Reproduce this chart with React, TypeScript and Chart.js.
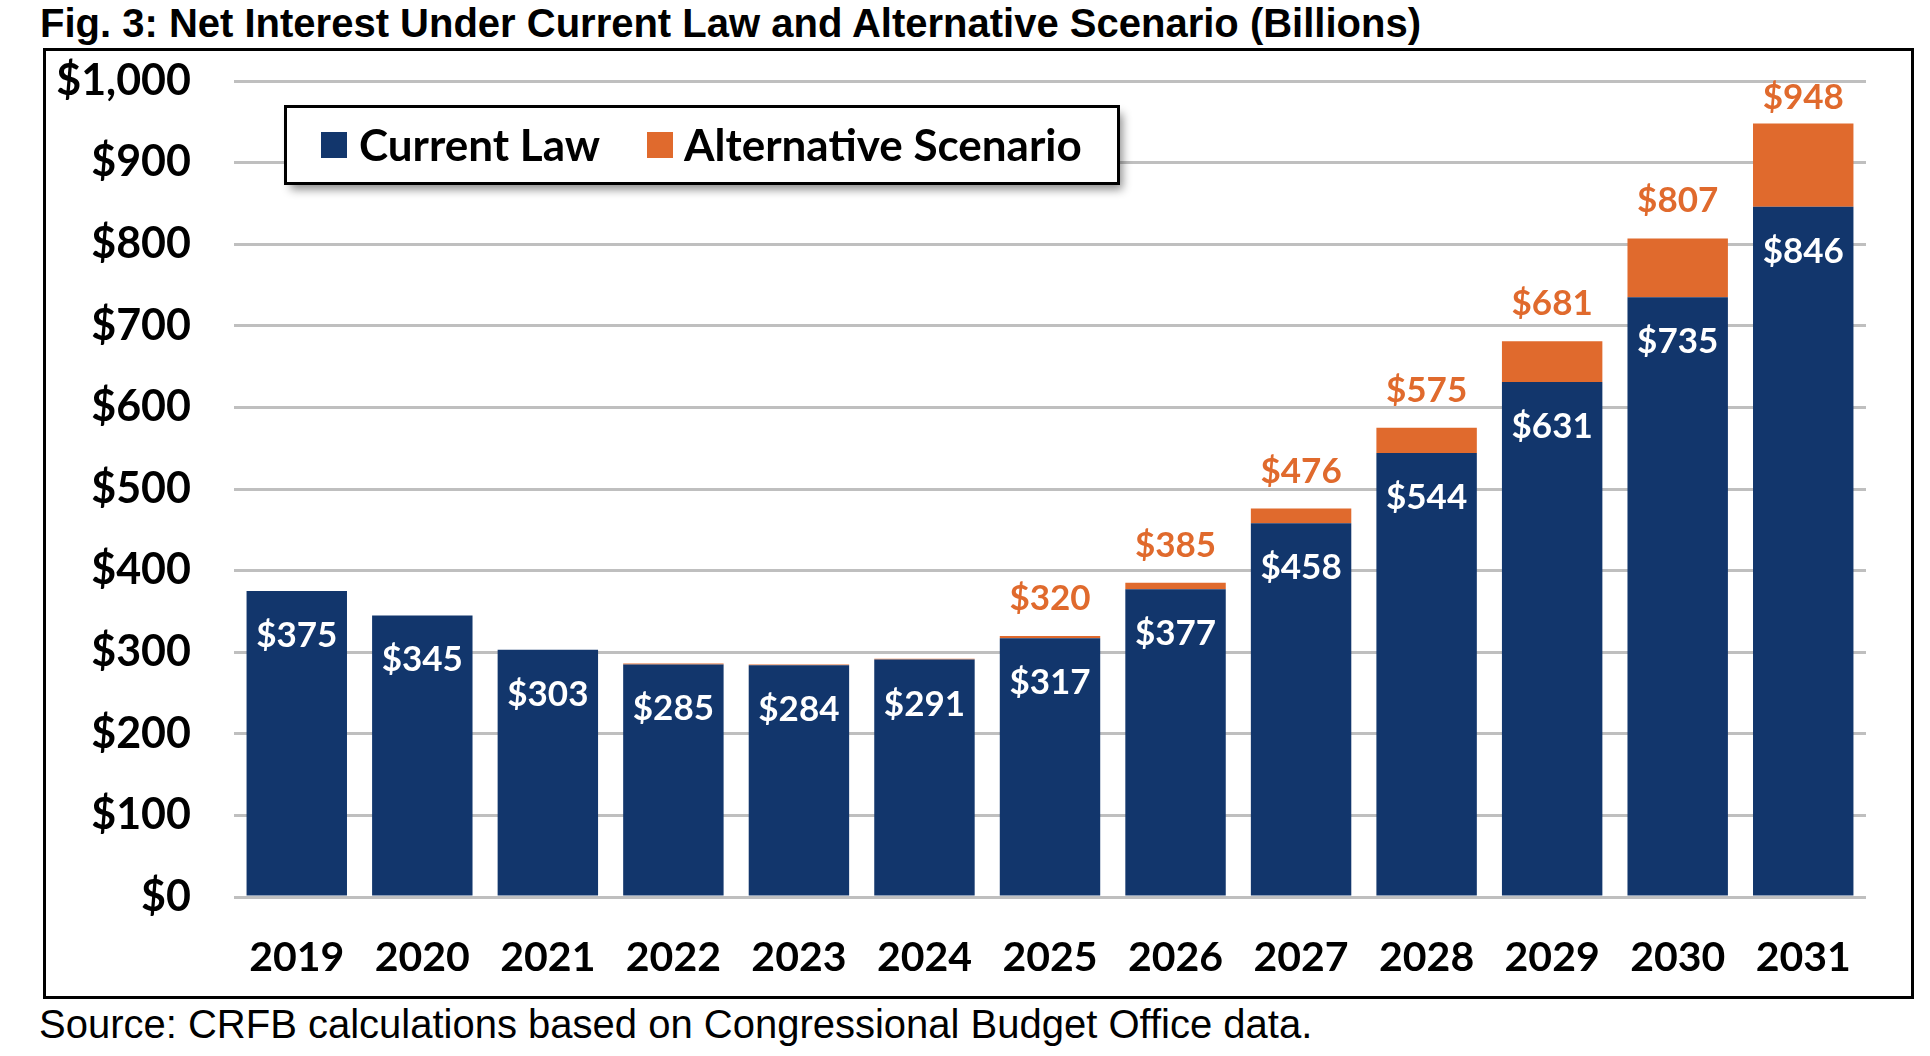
import React, { useEffect, useRef } from "react";
import { Chart, registerables } from "chart.js";

Chart.register(...registerables);

const years = ["2019", "2020", "2021", "2022", "2023", "2024", "2025", "2026", "2027", "2028", "2029", "2030", "2031"];
const currentLaw = [375, 345, 303, 285, 284, 291, 317, 377, 458, 544, 631, 735, 846];
const alternativeScenario = [375, 345, 303, 286, 285, 292, 320, 385, 476, 575, 681, 807, 948];
const seriesNames = ["Current Law", "Alternative Scenario"];
const yMin = 0;
const yMax = 1000;
const yStep = 100;

const BLUE = "#12366c";
const ORANGE = "#e06a2d";
const LABEL_FONT = "bold 35px Lato";

const fmt = (v: number) => "$" + v.toLocaleString("en-US");

const valueLabels = {
  id: "valueLabels",
  afterDatasetsDraw(chart: any) {
    const ctx = chart.ctx;
    const m0 = chart.getDatasetMeta(0);
    const m1 = chart.getDatasetMeta(1);
    ctx.save();
    ctx.font = LABEL_FONT;
    ctx.textAlign = "center";
    ctx.textBaseline = "alphabetic";
    currentLaw.forEach((v, i) => {
      const bar = m0.data[i];
      ctx.fillStyle = "#ffffff";
      ctx.fillText(fmt(v), bar.x, bar.y + 56);
      if (alternativeScenario[i] - v >= 3) {
        const top = m1.data[i];
        ctx.fillStyle = ORANGE;
        const yb = Math.max(top.y - 26, chart.chartArea.top + 28);
        ctx.fillText(fmt(alternativeScenario[i]), top.x, yb);
      }
    });
    ctx.restore();
  },
};

const boxLegend = {
  id: "boxLegend",
  afterDraw(chart: any) {
    const ctx = chart.ctx;
    const x = 239.5, y = 55.5, w = 833, h = 77;
    ctx.save();
    ctx.shadowColor = "rgba(0,0,0,0.45)";
    ctx.shadowBlur = 9;
    ctx.shadowOffsetX = 4;
    ctx.shadowOffsetY = 6;
    ctx.fillStyle = "#ffffff";
    ctx.fillRect(x, y, w, h);
    ctx.shadowColor = "transparent";
    ctx.lineWidth = 3;
    ctx.strokeStyle = "#000000";
    ctx.strokeRect(x, y, w, h);
    ctx.font = "bold 44px Lato";
    ctx.textBaseline = "alphabetic";
    ctx.textAlign = "left";
    const items = [
      { sx: 275, tx: 313, color: BLUE, text: chart.data.datasets[0].label },
      { sx: 601, tx: 638, color: ORANGE, text: chart.data.datasets[1].label },
    ];
    items.forEach((it) => {
      ctx.fillStyle = it.color;
      ctx.fillRect(it.sx, 81, 26, 26);
      ctx.fillStyle = "#000000";
      ctx.fillText(it.text, it.tx, 110);
    });
    ctx.restore();
  },
};

function NetInterestChart() {
  const ref = useRef<HTMLCanvasElement | null>(null);
  useEffect(() => {
    if (!ref.current) return;
    const chart = new Chart(ref.current, {
      type: "bar",
      data: {
        labels: years,
        datasets: [
          {
            label: seriesNames[0],
            data: currentLaw,
            backgroundColor: BLUE,
            borderWidth: 0,
            barPercentage: 0.8,
            categoryPercentage: 1,
          },
          {
            label: seriesNames[1],
            data: alternativeScenario.map((v, i) => v - currentLaw[i]),
            backgroundColor: ORANGE,
            borderWidth: 0,
            barPercentage: 0.8,
            categoryPercentage: 1,
          },
        ],
      },
      options: {
        animation: false,
        responsive: true,
        maintainAspectRatio: false,
        layout: { padding: { left: 0, right: 45, top: 30, bottom: 0 } },
        plugins: {
          legend: { display: false },
          tooltip: { enabled: false },
          title: { display: false },
        },
        scales: {
          x: {
            stacked: true,
            grid: { display: false, drawTicks: false },
            border: { display: false },
            ticks: {
              color: "#000000",
              font: { family: "Lato", size: 41, weight: "bold" },
              padding: 36,
              maxRotation: 0,
            },
            afterFit: (s: any) => {
              s.height = 99;
              s.paddingLeft = 0;
              s.paddingRight = 0;
            },
          },
          y: {
            stacked: true,
            min: yMin,
            max: yMax,
            grid: { color: "#bfbfbf", lineWidth: 3, drawTicks: false },
            border: { display: false },
            ticks: {
              stepSize: yStep,
              color: "#000000",
              font: { family: "Lato", size: 43, weight: "bold" },
              padding: 43,
              callback: (v: any) => fmt(Number(v)),
            },
            afterFit: (s: any) => {
              s.width = 188;
              s.paddingTop = 0;
              s.paddingBottom = 0;
            },
          },
        },
      },
      plugins: [valueLabels, boxLegend],
    });
    return () => chart.destroy();
  }, []);
  return <canvas ref={ref} />;
}

export default function App() {
  return (
    <div style={{ position: "absolute", left: 0, top: 0, width: 1930, height: 1056, background: "#ffffff" }}>
      <div
        style={{
          position: "absolute",
          left: 40,
          top: 3,
          fontFamily: "'Liberation Sans', Arial, sans-serif",
          fontWeight: "bold",
          fontSize: 40,
          lineHeight: "40px",
          color: "#000000",
          whiteSpace: "nowrap",
        }}
      >
        Fig. 3: Net Interest Under Current Law and Alternative Scenario (Billions)
      </div>
      <div
        style={{
          position: "absolute",
          left: 43,
          top: 48,
          width: 1865,
          height: 945,
          border: "3px solid #000000",
          background: "#ffffff",
        }}
      >
        <div style={{ position: "relative", width: 1865, height: 945 }}>
          <NetInterestChart />
        </div>
      </div>
      <div
        style={{
          position: "absolute",
          left: 39,
          top: 1004,
          fontFamily: "'Liberation Sans', Arial, sans-serif",
          fontSize: 40,
          lineHeight: "40px",
          color: "#000000",
          whiteSpace: "nowrap",
        }}
      >
        Source: CRFB calculations based on Congressional Budget Office data.
      </div>
    </div>
  );
}
